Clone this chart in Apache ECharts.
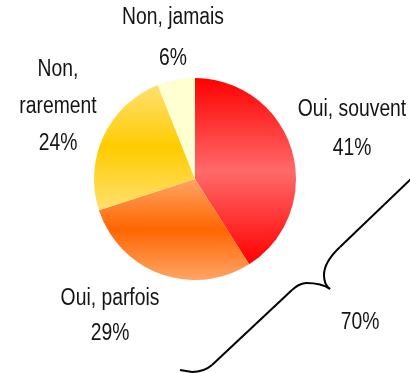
<!DOCTYPE html>
<html>
<head>
<meta charset="utf-8">
<script src="https://cdn.jsdelivr.net/npm/echarts@6/dist/echarts.min.js"></script>
<style>
  html, body { margin: 0; padding: 0; background: #ffffff; }
  #chart { width: 410px; height: 373px; }
</style>
</head>
<body>
<div id="chart"></div>
<script>
// Survey answers and their shares (percent)
const categories = ['Oui, souvent', 'Oui, parfois', 'Non, rarement', 'Non, jamais'];
const labelTexts = ['Oui, souvent', 'Oui, parfois', 'Non,\nrarement', 'Non, jamais'];
const shares = [41, 29, 24, 6];

// Vertical gradients per slice: edge colour -> middle colour -> edge colour
const edgeColors = ['#ff0000', '#ffa466', '#ffe070', '#ffffd2'];
const midColors  = ['#ff6a6a', '#ff6600', '#ffcc00', '#ffffd2'];

// Where each label block sits (centre of the block) and its line spacing
const labelSpots = [
  { x: 352, y: 129, lh: 39 },
  { x: 110, y: 316, lh: 35 },
  { x: 58,  y: 107, lh: 37 },
  { x: 173, y: 38,  lh: 41 }
];

// Condensed sans look: regular sans squeezed horizontally
const FONT = '"Liberation Sans", Arial, sans-serif';
const FONT_SIZE = 23;
const SQUEEZE = 0.84;
const TEXT_COLOR = '#141414';

const chart = echarts.init(document.getElementById('chart'), null, { renderer: 'canvas' });

function sliceGradient(i) {
  return {
    type: 'linear', x: 0, y: 0, x2: 0, y2: 1, global: false,
    colorStops: [
      { offset: 0, color: edgeColors[i] },
      { offset: 0.5, color: midColors[i] },
      { offset: 1, color: edgeColors[i] }
    ]
  };
}

const pieData = categories.map((name, i) => ({
  name: name,
  value: shares[i],
  itemStyle: { color: sliceGradient(i) }
}));

// Slice labels: answer text plus its share
function condensedText(text, x, y, lh) {
  return {
    type: 'text',
    x: x,
    y: y,
    scaleX: SQUEEZE,
    z: 10,
    style: {
      text: text,
      fill: TEXT_COLOR,
      fontFamily: FONT,
      fontSize: FONT_SIZE,
      lineHeight: lh,
      align: 'center',
      verticalAlign: 'middle'
    }
  };
}
const labelGraphics = categories.map((name, i) =>
  condensedText(labelTexts[i] + '\n' + shares[i] + '%', labelSpots[i].x, labelSpots[i].y, labelSpots[i].lh)
);

// Share of all "Oui" answers, shown next to the brace
const ouiTotal = shares[0] + shares[1];

// Curly brace grouping the two "Oui" slices, built from straight and curved strokes
const braceStyle = { stroke: '#000000', lineWidth: 2, fill: null };
const braceLines = [
  [412, 178, 340, 247],
  [292, 290, 212, 365],
  [192, 372, 180, 370]
];
const braceCurves = [
  [340, 247, 324, 262, 324, 275],
  [324, 275, 324, 285, 330, 289],
  [330, 289, 322, 283, 306, 283],
  [306, 283, 298, 284, 292, 290],
  [212, 365, 204, 372, 192, 372]
];
const braceGraphics = [].concat(
  braceLines.map(l => ({
    type: 'line',
    shape: { x1: l[0], y1: l[1], x2: l[2], y2: l[3] },
    style: braceStyle
  })),
  braceCurves.map(c => ({
    type: 'bezierCurve',
    shape: { x1: c[0], y1: c[1], cpx1: c[2], cpy1: c[3], x2: c[4], y2: c[5] },
    style: braceStyle
  }))
);

chart.setOption({
  backgroundColor: '#ffffff',
  animation: false,
  series: [{
    type: 'pie',
    center: [195, 179],
    radius: [0, 101],
    startAngle: 90,
    clockwise: true,
    data: pieData,
    itemStyle: { borderWidth: 0 },
    label: { show: false },
    labelLine: { show: false },
    emphasis: { disabled: true }
  }],
  graphic: braceGraphics
    .concat(labelGraphics)
    .concat([condensedText(ouiTotal + '%', 360, 323, 30)])
});
</script>
</body>
</html>
